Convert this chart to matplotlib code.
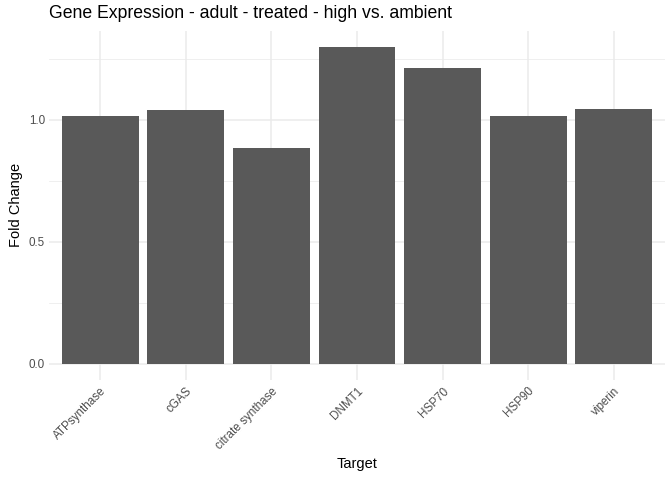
import matplotlib
matplotlib.use("Agg")
import matplotlib.pyplot as plt
import numpy as np

targets = ["ATPsynthase", "cGAS", "citrate synthase", "DNMT1", "HSP70", "HSP90", "viperin"]
fold_change = [1.016, 1.041, 0.885, 1.300, 1.213, 1.016, 1.045]

plt.rcParams['font.family'] = ['Liberation Sans', 'DejaVu Sans']

fig = plt.figure(figsize=(6.72, 4.8), dpi=100)
ax = fig.add_axes([49/672, 1-379.5/480, (665-49)/672, (379.5-31)/480])

x = np.arange(1, len(targets) + 1)
ax.bar(x, fold_change, width=0.9, color="#595959", zorder=2)

ax.set_xlim(0.4, len(targets) + 0.6)
ymax = max(fold_change)
ax.set_ylim(-0.05 * ymax, ymax * 1.05)

ax.set_yticks([0.0, 0.5, 1.0])
ax.set_yticklabels(["0.0", "0.5", "1.0"])
ax.set_yticks([0.25, 0.75, 1.25], minor=True)
ax.set_xticks(x)
ax.set_xticklabels(targets, rotation=45, ha="right", va="top", rotation_mode="anchor")

ax.grid(True, which="major", color="#EBEBEB", linewidth=1.1, zorder=0)
ax.grid(True, which="minor", axis="y", color="#EBEBEB", linewidth=0.55, zorder=0)
ax.set_axisbelow(True)

for s in ax.spines.values():
    s.set_visible(False)
ax.tick_params(axis="both", which="both", length=0, colors="#4D4D4D", labelsize=8.4)
ax.tick_params(axis="x", pad=4)
ax.tick_params(axis="y", pad=3)

ax.set_xlabel("Target", fontsize=10.5, color="black", labelpad=4)
ax.set_ylabel("Fold Change", fontsize=10.5, color="black", labelpad=4)
fig.text(49/672, 1-14/480, "Gene Expression - adult - treated - high vs. ambient",
         fontsize=12.7, color="black", ha="left", va="center")

fig.savefig("out.png", dpi=100)
